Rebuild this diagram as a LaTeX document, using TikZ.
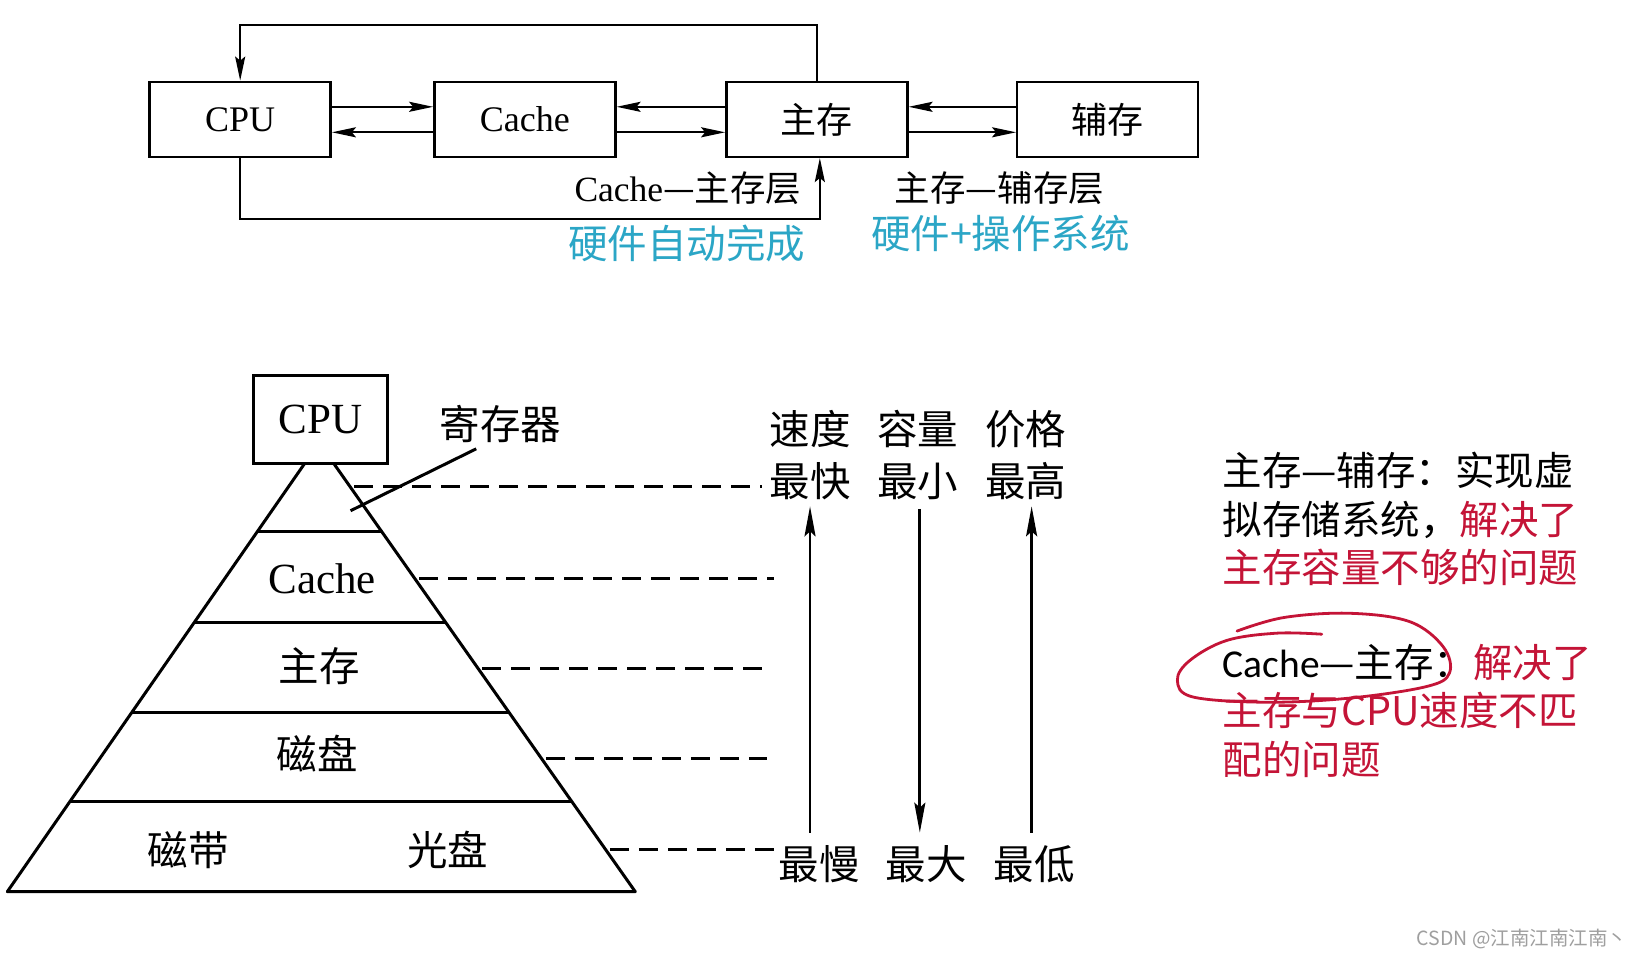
\documentclass[tikz,border=0pt]{standalone}
\usepackage{fontspec}
\setmainfont{Liberation Serif}
\newfontfamily\cjk{Noto Sans CJK SC}
\newfontfamily\carlito{Carlito}
\usetikzlibrary{arrows.meta,calc}
\definecolor{hintblue}{RGB}{43,166,198}
\definecolor{penred}{RGB}{196,20,55}

\begin{document}
\begin{tikzpicture}[
  x=1.0466pt, y=-1.0466pt,
  >={Stealth[length=24pt,width=10pt,inset=4pt]},
  unit/.style={draw, line width=2.4pt, minimum width=181pt, minimum height=75pt, inner sep=0pt, font=\fontsize{36}{40}\selectfont},
  layer/.style={font=\cjk\fontsize{35.5}{40}\selectfont, inner sep=0pt},
  hint/.style={font=\cjk\fontsize{39.5}{44}\selectfont, text=hintblue, inner sep=0pt},
  lvl/.style={font=\fontsize{43}{46}\selectfont, inner sep=0pt},
  lvlzh/.style={font=\cjk\fontsize{40.5}{46}\selectfont, inner sep=0pt},
  levelline/.style={line width=3pt, dash pattern=on 19pt off 10pt},
  note/.style={font=\cjk\fontsize{39.5}{48.5}\selectfont, align=left, inner sep=0pt, anchor=north west}
]
  \fill[white] (0,0) rectangle (1568,915);
  \useasboundingbox (0,0) rectangle (1568,915);

  % Cache -- main memory -- disk chain
  \node[unit] (cpu) at (229.5,114) {CPU};
  \node[unit] (cache) at (501.5,114) {Cache};
  \node[unit] (main) at (780.5,114) {\cjk 主存};
  \node[unit] (aux) at (1058.5,114) {\cjk 辅存};

  \begin{scope}[line width=2.3pt]
    \draw[->] ([yshift=12.5pt]cpu.east) -- ([yshift=12.5pt]cache.west);
    \draw[<-] ([yshift=-13pt]cpu.east) -- ([yshift=-13pt]cache.west);
    \draw[<-] ([yshift=12.5pt]cache.east) -- ([yshift=12.5pt]main.west);
    \draw[->] ([yshift=-13pt]cache.east) -- ([yshift=-13pt]main.west);
    \draw[<-] ([yshift=12.5pt]main.east) -- ([yshift=12.5pt]aux.west);
    \draw[->] ([yshift=-13pt]main.east) -- ([yshift=-13pt]aux.west);
    \draw[->] (main.north) -- ++(0,-53) -| (cpu.north);
    \draw[->] (cpu.south) -- ++(0,58) -| ([xshift=3pt]main.south);
  \end{scope}

  \node[layer, anchor=east] (cmlayer) at (766,180) {{\rmfamily Cache}—主存层};
  \node[layer] (malayer) at (955,180) {主存—辅存层};
  \node[hint] (hw) at (656,233) {硬件自动完成};
  \node[hint] (hwos) at (956,223) {硬件+操作系统};

  % pyramid
  \node[unit, minimum width=134pt, minimum height=88pt, line width=3pt, font=\fontsize{43}{46}\selectfont] (cpu2) at (306,401) {CPU};
  \coordinate (tl) at (291,443);
  \coordinate (tr) at (319,443);
  \coordinate (bl) at (7,852);
  \coordinate (br) at (607,852);
  \draw[line width=3pt, line join=round] (tl) -- (bl) -- (br) -- (tr);
  \foreach \t in {0.159,0.372,0.582,0.790}
    \draw[line width=3pt] ($(tl)!\t!(bl)$) -- ($(tr)!\t!(br)$);

  \node[lvl] (cachelvl) at (308,553) {Cache};
  \node[lvlzh] (mainlvl) at (305,636) {主存};
  \node[lvlzh] (disk) at (303,720) {磁盘};
  \node[lvlzh] (tape) at (180,812) {磁带};
  \node[lvlzh] (optic) at (428,812) {光盘};
  \node[lvlzh] (reg) at (478,405) {寄存器};
  \coordinate (regpt) at (335,488);
  \draw[line width=3pt] (regpt) -- ([xshift=-24pt,yshift=-6pt]reg.south);

  \foreach \y/\e in {465/728,553/740,639/738,725/733,812/742}
    \draw[levelline] ({323+(\y-443)*0.704},\y) -- (\e,\y);

  % speed, capacity, price
  \node[lvlzh] (spd) at (774,410) {速度};
  \node[lvlzh] (cap) at (877,410) {容量};
  \node[lvlzh] (cost) at (980,410) {价格};
  \node[lvlzh] (fast) at (774,460) {最快};
  \node[lvlzh] (small) at (877,460) {最小};
  \node[lvlzh] (high) at (980,460) {最高};
  \node[lvlzh] (slow) at (783,826) {最慢};
  \node[lvlzh] (big) at (885,826) {最大};
  \node[lvlzh] (low) at (988,826) {最低};

  \begin{scope}[line width=2.8pt, >={Stealth[length=30pt,width=11pt,inset=5pt]}]
    \draw[->, shorten <=13pt, shorten >=6pt] (fast.south |- slow.north) -- (fast.south);
    \draw[->, shorten <=9pt, shorten >=13pt] ([xshift=2pt]small.south) -- ([xshift=2pt]small.south |- big.north);
    \draw[->, shorten <=13pt, shorten >=6pt] ([xshift=6pt]high.south |- low.north) -- ([xshift=6pt]high.south);
  \end{scope}

  % notes
  \node[note] (vm) at (1168,432) {主存—辅存：实现虚\\拟存储系统，\textcolor{penred}{解决了}\\\textcolor{penred}{主存容量不够的问题}};
  \node[note] (cm) at (1168,615) {{\carlito Cache}—主存：\textcolor{penred}{解决了}\\\textcolor{penred}{主存与CPU速度不匹}\\\textcolor{penred}{配的问题}};
  \draw[penred, line width=2.8pt, line cap=round] plot[smooth, tension=0.6] coordinates {(1182,603) (1227,590) (1290,586) (1347,594) (1379,618) (1385,643) (1363,656) (1290,667) (1211,671) (1140,666) (1125,650) (1137,631) (1172,612) (1220,605) (1263,606)};

  \node[font=\cjk\fontsize{19.5}{22}\selectfont, text=gray!75, anchor=east, inner sep=0pt] (wm) at (1555,897) {CSDN @江南江南江南丶};
\end{tikzpicture}
\end{document}
